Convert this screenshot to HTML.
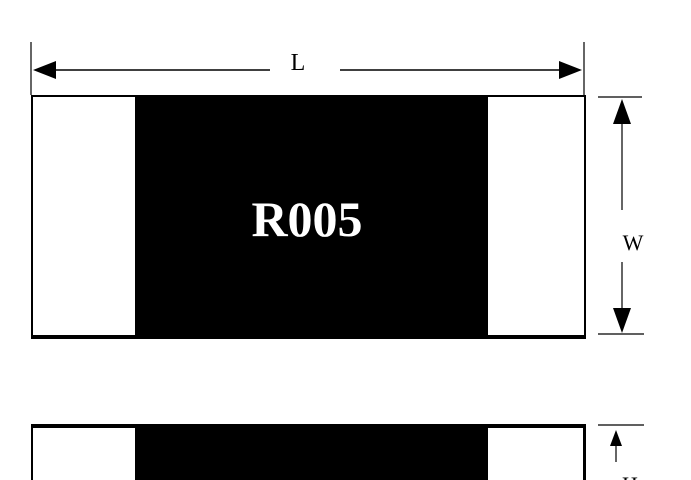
<!DOCTYPE html>
<html><head><style>body{margin:0;background:#fff}svg{display:block}</style></head><body>
<svg width="691" height="480" viewBox="0 0 691 480" xmlns="http://www.w3.org/2000/svg">
<rect width="691" height="480" fill="#fff"/>
<line x1="31" y1="42" x2="31" y2="95" stroke="#000" stroke-width="1.2"/>
<line x1="584" y1="42" x2="584" y2="95" stroke="#000" stroke-width="1.2"/>
<line x1="50" y1="70" x2="270" y2="70" stroke="#000" stroke-width="1.5"/>
<line x1="340" y1="70" x2="565" y2="70" stroke="#000" stroke-width="1.5"/>
<polygon points="33,70 56,61 56,79" fill="#000"/>
<polygon points="582,70 559,61 559,79" fill="#000"/>
<text x="298" y="70" font-family="Liberation Serif, serif" font-size="24" text-anchor="middle">L</text>
<rect x="31" y="95" width="555" height="244" fill="#000"/>
<rect x="33" y="97" width="102" height="238" fill="#fff"/>
<rect x="488" y="97" width="96" height="238" fill="#fff"/>
<text x="307" y="236" font-family="Liberation Serif, serif" font-weight="bold" font-size="50" fill="#fff" text-anchor="middle">R005</text>
<line x1="598" y1="97" x2="642" y2="97" stroke="#000" stroke-width="1.2"/>
<line x1="598" y1="334" x2="644" y2="334" stroke="#000" stroke-width="1.2"/>
<line x1="622" y1="115" x2="622" y2="210" stroke="#000" stroke-width="1.2"/>
<line x1="622" y1="262" x2="622" y2="318" stroke="#000" stroke-width="1.2"/>
<polygon points="622,99 613,124 631,124" fill="#000"/>
<polygon points="622,333 613,308 631,308" fill="#000"/>
<text x="633" y="250" font-family="Liberation Serif, serif" font-size="22" text-anchor="middle">W</text>
<rect x="31" y="424" width="555" height="56" fill="#000"/>
<rect x="33" y="428" width="102" height="52" fill="#fff"/>
<rect x="488" y="428" width="95" height="52" fill="#fff"/>
<line x1="598" y1="425" x2="644" y2="425" stroke="#000" stroke-width="1.2"/>
<polygon points="616,430 610,446 622,446" fill="#000"/>
<line x1="616" y1="444" x2="616" y2="462" stroke="#000" stroke-width="1.2"/>
<text x="630" y="492" font-family="Liberation Serif, serif" font-size="22" text-anchor="middle">H</text>
</svg>
</body></html>
